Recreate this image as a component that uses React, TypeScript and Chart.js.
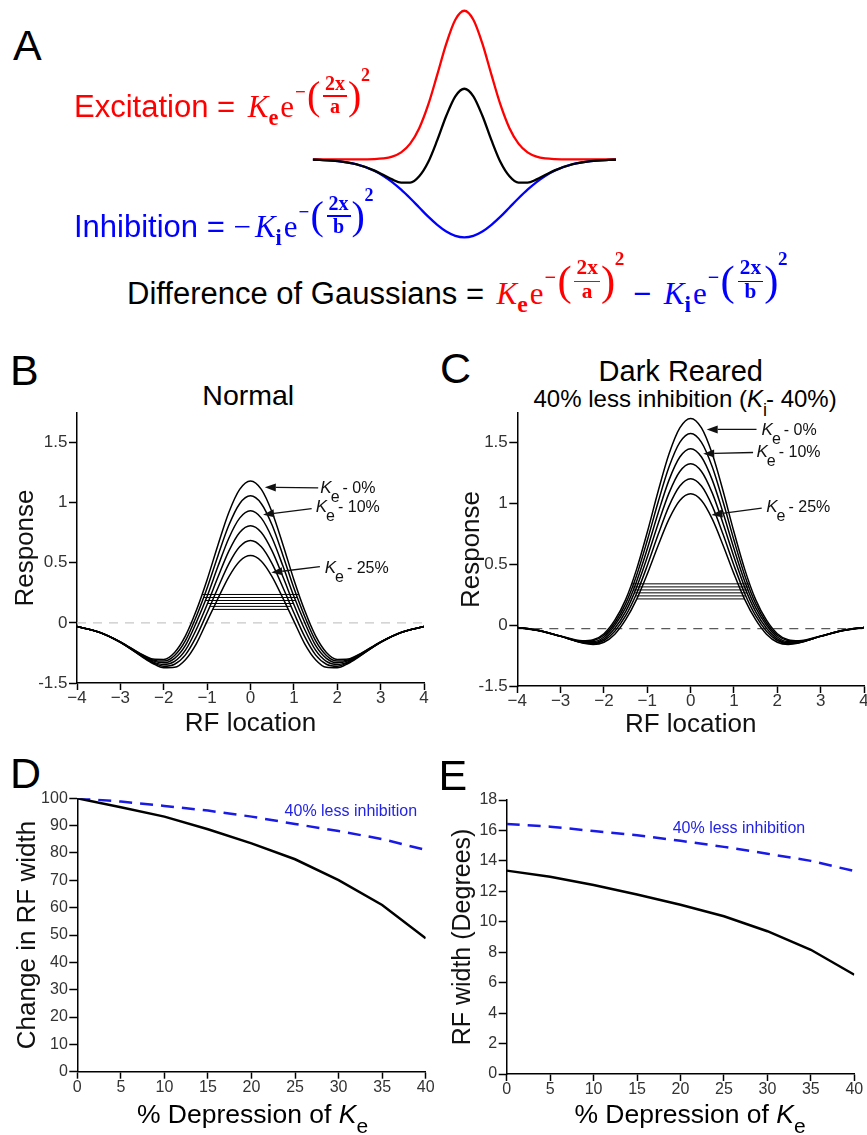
import React, { useEffect, useRef } from 'react';
import { Chart, registerables } from 'chart.js';
Chart.register(...registerables);

const SANS = "'Liberation Sans', Arial, Helvetica, sans-serif";
const SERIF = "'Liberation Serif', 'Times New Roman', serif";
Chart.defaults.font.family = SANS;
Chart.defaults.color = '#333';

// ---------- Panel A : schematic Gaussians ----------
const xA = [-4.2, -4, -3.5, -3, -2.5, -2.25, -2, -1.75, -1.5, -1.25, -1, -0.75, -0.5, -0.25, 0, 0.25, 0.5, 0.75, 1, 1.25, 1.5, 1.75, 2, 2.25, 2.5, 3, 3.5, 4, 4.2];
const excitationA = [0, 0, 0, 0.0001, 0.0019, 0.0063, 0.0183, 0.0468, 0.1054, 0.2096, 0.3679, 0.5698, 0.7788, 0.9394, 1, 0.9394, 0.7788, 0.5698, 0.3679, 0.2096, 0.1054, 0.0468, 0.0183, 0.0063, 0.0019, 0.0001, 0, 0, 0];
const inhibitionA = [-0.0023, -0.0038, -0.012, -0.0327, -0.0763, -0.11, -0.153, -0.204, -0.262, -0.324, -0.386, -0.441, -0.486, -0.515, -0.525, -0.515, -0.486, -0.441, -0.386, -0.324, -0.262, -0.204, -0.153, -0.11, -0.0763, -0.0327, -0.012, -0.0038, -0.0023];
const dogA = [-0.0023, -0.004, -0.012, -0.033, -0.074, -0.104, -0.135, -0.157, -0.157, -0.114, -0.018, 0.129, 0.293, 0.424, 0.475, 0.424, 0.293, 0.129, -0.018, -0.114, -0.157, -0.157, -0.135, -0.104, -0.074, -0.033, -0.012, -0.004, -0.0023];

// ---------- Panels B & C : RF profiles ----------
const rfLocation = [-4, -3.5, -3, -2.5, -2.25, -2, -1.75, -1.5, -1.25, -1, -0.75, -0.5, -0.25, 0, 0.25, 0.5, 0.75, 1, 1.25, 1.5, 1.75, 2, 2.25, 2.5, 3, 3.5, 4];
const normalKe0 = [-0.031, -0.076, -0.158, -0.263, -0.301, -0.304, -0.246, -0.108, 0.102, 0.359, 0.648, 0.918, 1.11, 1.18, 1.11, 0.918, 0.648, 0.359, 0.102, -0.108, -0.246, -0.304, -0.301, -0.263, -0.158, -0.076, -0.031];
const normalKe5 = [-0.031, -0.076, -0.158, -0.266, -0.308, -0.318, -0.271, -0.148, 0.053, 0.29, 0.559, 0.811, 0.991, 1.056, 0.991, 0.811, 0.559, 0.29, 0.053, -0.148, -0.271, -0.318, -0.308, -0.266, -0.158, -0.076, -0.031];
const normalKe10 = [-0.031, -0.076, -0.16, -0.271, -0.316, -0.332, -0.295, -0.187, 0.003, 0.221, 0.47, 0.704, 0.871, 0.932, 0.871, 0.704, 0.47, 0.221, 0.003, -0.187, -0.295, -0.332, -0.316, -0.271, -0.16, -0.076, -0.031];
const normalKe15 = [-0.031, -0.076, -0.161, -0.275, -0.324, -0.346, -0.32, -0.227, -0.055, 0.153, 0.381, 0.597, 0.752, 0.808, 0.752, 0.597, 0.381, 0.153, -0.055, -0.227, -0.32, -0.346, -0.324, -0.275, -0.161, -0.076, -0.031];
const normalKe20 = [-0.031, -0.077, -0.161, -0.278, -0.331, -0.36, -0.344, -0.266, -0.115, 0.084, 0.292, 0.49, 0.632, 0.684, 0.632, 0.49, 0.292, 0.084, -0.115, -0.266, -0.344, -0.36, -0.331, -0.278, -0.161, -0.077, -0.031];
const normalKe25 = [-0.031, -0.077, -0.162, -0.282, -0.338, -0.374, -0.37, -0.306, -0.174, 0.015, 0.203, 0.383, 0.513, 0.56, 0.513, 0.383, 0.203, 0.015, -0.174, -0.306, -0.37, -0.374, -0.338, -0.282, -0.162, -0.077, -0.031];
const darkKe0 = [-0.018, -0.044, -0.089, -0.128, -0.12, -0.07, 0.041, 0.21, 0.457, 0.766, 1.102, 1.407, 1.622, 1.7, 1.622, 1.407, 1.102, 0.766, 0.457, 0.21, 0.041, -0.07, -0.12, -0.128, -0.089, -0.044, -0.018];
const darkKe5 = [-0.018, -0.044, -0.09, -0.132, -0.127, -0.083, 0.02, 0.177, 0.407, 0.698, 1.013, 1.3, 1.503, 1.576, 1.503, 1.3, 1.013, 0.698, 0.407, 0.177, 0.02, -0.083, -0.127, -0.132, -0.09, -0.044, -0.018];
const darkKe10 = [-0.018, -0.044, -0.09, -0.136, -0.136, -0.097, 0, 0.144, 0.358, 0.629, 0.923, 1.193, 1.383, 1.452, 1.383, 1.193, 0.923, 0.629, 0.358, 0.144, 0, -0.097, -0.136, -0.136, -0.09, -0.044, -0.018];
const darkKe15 = [-0.018, -0.044, -0.091, -0.139, -0.143, -0.112, -0.025, 0.111, 0.309, 0.56, 0.834, 1.086, 1.264, 1.328, 1.264, 1.086, 0.834, 0.56, 0.309, 0.111, -0.025, -0.112, -0.143, -0.139, -0.091, -0.044, -0.018];
const darkKe20 = [-0.018, -0.046, -0.092, -0.143, -0.15, -0.126, -0.049, 0.078, 0.259, 0.491, 0.745, 0.979, 1.144, 1.204, 1.144, 0.979, 0.745, 0.491, 0.259, 0.078, -0.049, -0.126, -0.15, -0.143, -0.092, -0.046, -0.018];
const darkKe25 = [-0.019, -0.046, -0.092, -0.146, -0.158, -0.14, -0.074, 0.045, 0.21, 0.422, 0.656, 0.872, 1.025, 1.08, 1.025, 0.872, 0.656, 0.422, 0.21, 0.045, -0.074, -0.14, -0.158, -0.146, -0.092, -0.046, -0.019];

// width-measurement lines (20% of peak) : level and half width
const bandLevelB = [0.236, 0.211, 0.186, 0.161, 0.137, 0.112];
const bandHalfWidthB = [1.113, 1.077, 1.038, 0.988, 0.93, 0.865];
const bandLevelC = [0.34, 0.315, 0.29, 0.266, 0.241, 0.216];
const bandHalfWidthC = [1.368, 1.352, 1.33, 1.307, 1.277, 1.24];
const zeroLevelB = 0;
const zeroLevelC = -0.028;

const rfTickValues = [-4, -3, -2, -1, 0, 1, 2, 3, 4];
const rfTickLabels = ['\u22124', '\u22123', '\u22122', '\u22121', '0', '1', '2', '3', '4'];
const respTickValues = [-0.5, 0, 0.5, 1, 1.5];
const respTickLabels = ['-1.5', '0', '0.5', '1', '1.5'];

// curve annotations (data coordinates)
const labelTexts = ['0%', '10%', '25%'];
const arrowTailB = [[1.56, 1.122], [1.41, 0.95], [1.6, 0.467]];
const arrowHeadB = [[0.33, 1.127], [0.29, 0.9], [0.48, 0.418]];
const labelPosB = [[1.61, 1.08], [1.505, 0.925], [1.71, 0.418]];
const arrowTailC = [[1.52, 1.61], [1.44, 1.42], [1.64, 0.962]];
const arrowHeadC = [[0.37, 1.61], [0.29, 1.41], [0.48, 0.907]];
const labelPosC = [[1.636, 1.566], [1.52, 1.387], [1.744, 0.934]];

// ---------- Panels D & E ----------
const depression = [0, 5, 10, 15, 20, 25, 30, 35, 40];
const changeNormal = [100, 96.7, 93.3, 88.7, 83.5, 77.7, 70.1, 61.0, 48.8];
const changeLessInh = [100, 98.8, 97.2, 95.5, 93.3, 90.6, 88.0, 85.1, 81.1];
const widthNormal = [13.36, 12.96, 12.42, 11.79, 11.12, 10.36, 9.38, 8.16, 6.52];
const widthLessInh = [16.42, 16.25, 15.96, 15.69, 15.32, 14.92, 14.47, 14.0, 13.33];
const depTickValues = [0, 5, 10, 15, 20, 25, 30, 35, 40];
const changeTickValues = [0, 10, 20, 30, 40, 50, 60, 70, 80, 90, 100];
const widthTickValues = [0, 2, 4, 6, 8, 10, 12, 14, 16, 18];
const lessInhLabelD = [23.8, 95.0];
const lessInhLabelE = [19.1, 16.1];

// ---------- helpers ----------
const pts = (xs: number[], ys: number[]) => xs.map((x, i) => ({ x, y: ys[i] }));

function xAxis(min: number, max: number, values: number[], labels: string[], height: number, fontSize: number, pad: number, title?: any) {
  return {
    type: 'linear', min, max,
    afterBuildTicks: (s: any) => { s.ticks = values.map((v) => ({ value: v })); },
    afterFit: (s: any) => { s.height = height; s.paddingLeft = 0; s.paddingRight = 0; },
    ticks: { autoSkip: false, maxRotation: 0, padding: pad, color: '#333', font: { size: fontSize, lineHeight: 1 }, callback: (_v: any, i: number) => labels[i] },
    grid: { drawOnChartArea: false, drawTicks: true, tickLength: 7, tickColor: '#000', tickWidth: 1.5 },
    border: { display: true, color: '#000', width: 1.5 },
    title: title || { display: false },
  };
}
function yAxis(min: number, max: number, values: number[], labels: string[], width: number, fontSize: number, title: any) {
  return {
    type: 'linear', min, max,
    afterBuildTicks: (s: any) => { s.ticks = values.map((v) => ({ value: v })); },
    afterFit: (s: any) => { s.width = width; s.paddingTop = 0; s.paddingBottom = 0; },
    ticks: { autoSkip: false, padding: 1.5, color: '#333', font: { size: fontSize, lineHeight: 1 }, callback: (_v: any, i: number) => labels[i] },
    grid: { drawOnChartArea: false, drawTicks: true, tickLength: 8, tickColor: '#000', tickWidth: 1.5 },
    border: { display: true, color: '#000', width: 1.5 },
    title,
  };
}

function annotPlugin(tails: number[][], heads: number[][], labels: number[][]) {
  return {
    id: 'curveLabels',
    afterDatasetsDraw(chart: any) {
      const { ctx, scales } = chart;
      const X = (v: number) => scales.x.getPixelForValue(v);
      const Y = (v: number) => scales.y.getPixelForValue(v);
      ctx.save();
      ctx.strokeStyle = '#111';
      ctx.fillStyle = '#111';
      ctx.lineWidth = 1.3;
      tails.forEach((t, i) => {
        const x0 = X(t[0]), y0 = Y(t[1]);
        const x1 = X(heads[i][0]), y1 = Y(heads[i][1]);
        const a = Math.atan2(y1 - y0, x1 - x0);
        const hl = 11, hw = 4;
        const bx = x1 - hl * Math.cos(a), by = y1 - hl * Math.sin(a);
        ctx.beginPath(); ctx.moveTo(x0, y0); ctx.lineTo(bx, by); ctx.stroke();
        ctx.beginPath(); ctx.moveTo(x1, y1);
        ctx.lineTo(bx + hw * Math.sin(a), by - hw * Math.cos(a));
        ctx.lineTo(bx - hw * Math.sin(a), by + hw * Math.cos(a));
        ctx.closePath(); ctx.fill();
        const lx = X(labels[i][0]), ly = Y(labels[i][1]);
        ctx.textAlign = 'left'; ctx.textBaseline = 'alphabetic';
        ctx.font = `italic 17px ${SANS}`;
        ctx.fillText('K', lx, ly);
        const kw = ctx.measureText('K').width;
        ctx.font = `16px ${SANS}`;
        ctx.fillText('e', lx + kw - 1, ly + 9);
        const ew = ctx.measureText('e').width;
        ctx.fillText('- ' + labelTexts[i], lx + kw + ew + 2, ly);
      });
      ctx.restore();
    },
  };
}
function textPlugin(pos: number[]) {
  return {
    id: 'lessInh',
    afterDatasetsDraw(chart: any) {
      const { ctx, scales } = chart;
      ctx.save();
      ctx.font = `16px ${SANS}`;
      ctx.fillStyle = '#2323e6';
      ctx.textAlign = 'left';
      ctx.textBaseline = 'middle';
      ctx.fillText('40% less inhibition', scales.x.getPixelForValue(pos[0]), scales.y.getPixelForValue(pos[1]));
      ctx.restore();
    },
  };
}

function ChartCanvas({ left, top, width, height, config }: { left: number; top: number; width: number; height: number; config: any }) {
  const ref = useRef<HTMLCanvasElement>(null);
  useEffect(() => {
    const chart = new Chart(ref.current as HTMLCanvasElement, config);
    return () => chart.destroy();
  }, []);
  return <canvas ref={ref} width={width} height={height} style={{ position: 'absolute', left, top, width, height }} />;
}

function Txt({ left, baseline, size, color = '#000', width, align, children, italic }: any) {
  return (
    <div style={{ position: 'absolute', left, top: baseline - 0.8465 * size, width, textAlign: align, fontSize: size, lineHeight: `${size}px`, color, fontFamily: SANS, whiteSpace: 'nowrap', fontStyle: italic ? 'italic' : 'normal' }}>
      {children}
    </div>
  );
}

function Exponent({ den, s }: { den: string; s: number }) {
  const k = s / 31;
  const p = (v: number) => v * k;
  const base: React.CSSProperties = { position: 'absolute', lineHeight: 1, fontFamily: SERIF, whiteSpace: 'nowrap' };
  return (
    <span style={{ display: 'inline-block', position: 'relative', width: p(75), height: 0, verticalAlign: 'baseline' }}>
      <span style={{ ...base, left: p(0), bottom: p(15.6), fontSize: p(19), fontWeight: 'bold' }}>{'\u2212'}</span>
      <span style={{ ...base, left: p(12), bottom: p(1.5), fontSize: p(40) }}>(</span>
      <span style={{ ...base, left: p(26), width: p(28), textAlign: 'center', bottom: p(24), fontSize: p(20), fontWeight: 'bold' }}>2x</span>
      <span style={{ position: 'absolute', left: p(28), width: p(24), bottom: p(20.5), height: 1.4, background: 'currentColor' }} />
      <span style={{ ...base, left: p(26), width: p(28), textAlign: 'center', bottom: p(1.5), fontSize: p(20), fontWeight: 'bold' }}>{den}</span>
      <span style={{ ...base, left: p(53), bottom: p(1.5), fontSize: p(40) }}>)</span>
      <span style={{ ...base, left: p(66), bottom: p(33), fontSize: p(18), fontWeight: 'bold' }}>2</span>
    </span>
  );
}

function Term({ sub, den, s, neg }: { sub: string; den: string; s: number; neg?: boolean }) {
  return (
    <span style={{ fontFamily: SERIF }}>
      {neg ? <span>{'\u2212'}</span> : null}
      <span style={{ fontStyle: 'italic', marginLeft: 4 }}>K</span>
      <span style={{ fontSize: s * 0.72, fontWeight: 'bold', position: 'relative', top: s * 0.26, marginRight: 2 }}>{sub}</span>
      <span style={{ marginRight: 1 }}>e</span>
      <Exponent den={den} s={s} />
    </span>
  );
}

function Letter({ left, baseline, ch }: { left: number; baseline: number; ch: string }) {
  return <Txt left={left} baseline={baseline} size={43}>{ch}</Txt>;
}

export default function App() {
  const noPlug = { legend: { display: false }, tooltip: { enabled: false }, title: { display: false } };

  const cfgA = {
    type: 'line',
    data: {
      datasets: [
        { data: pts(xA, dogA), borderColor: '#000', borderWidth: 2.3, pointRadius: 0, cubicInterpolationMode: 'monotone' },
        { data: pts(xA, excitationA), borderColor: '#ff0000', borderWidth: 2.3, pointRadius: 0, cubicInterpolationMode: 'monotone' },
        { data: pts(xA, inhibitionA), borderColor: '#0000ff', borderWidth: 2.3, pointRadius: 0, cubicInterpolationMode: 'monotone' },
      ],
    },
    options: {
      animation: false, responsive: false, events: [],
      layout: { padding: { left: 12.7, right: 14, top: 3.3, bottom: 11.5 } },
      plugins: noPlug,
      scales: { x: { type: 'linear', display: false, min: -4.2, max: 4.2 }, y: { display: false, min: -0.6, max: 1.05 } },
    },
  };

  const rfConfig = (curves: number[][], levels: number[], halfW: number[], zero: number, zeroColor: string, yWidth: number, xHeight: number, padRight: number, yTitlePad: number, xTitlePad: number, plugin: any) => ({
    type: 'line',
    data: {
      datasets: [
        ...curves.map((c) => ({ data: pts(rfLocation, c), borderColor: '#000', borderWidth: 1.5, pointRadius: 0, cubicInterpolationMode: 'monotone' })),
        ...levels.map((h, i) => ({ data: [{ x: -halfW[i], y: h }, { x: halfW[i], y: h }], borderColor: '#000', borderWidth: 1, pointRadius: 0 })),
        { data: [{ x: -4, y: zero }, { x: 4, y: zero }], borderColor: zeroColor, borderWidth: 1.3, borderDash: [9, 7], pointRadius: 0 },
      ],
    },
    options: {
      animation: false, responsive: false, events: [],
      layout: { padding: { left: 0, right: padRight, top: 73, bottom: 0 } },
      plugins: noPlug,
      scales: {
        x: xAxis(-4, 4, rfTickValues, rfTickLabels, xHeight, 17, 0, { display: true, text: 'RF location', color: '#111', font: { size: 26, lineHeight: 1.2 }, padding: { top: 0, bottom: xTitlePad } }),
        y: yAxis(-0.5, 1.745, respTickValues, respTickLabels, yWidth, 17, { display: true, text: 'Response', color: '#111', font: { size: 26, lineHeight: 1.2 }, padding: { top: yTitlePad, bottom: 0 } }),
      },
    },
    plugins: [plugin],
  });

  const cfgB = rfConfig([normalKe0, normalKe5, normalKe10, normalKe15, normalKe20, normalKe25], bandLevelB, bandHalfWidthB, zeroLevelB, '#c8c8c8', 77, 57, 16, 10.4, 0.9, annotPlugin(arrowTailB, arrowHeadB, labelPosB));
  const cfgC = rfConfig([darkKe0, darkKe5, darkKe10, darkKe15, darkKe20, darkKe25], bandLevelC, bandHalfWidthC, zeroLevelC, '#5a5a5a', 77.3, 54, 3, 16.4, 0, annotPlugin(arrowTailC, arrowHeadC, labelPosC));

  const depConfig = (normal: number[], less: number[], yMax: number, yVals: number[], yWidth: number, xHeight: number, padRight: number, padTop: number, yTitle: string, yTitleSize: number, yTitlePad: number, labelPos: number[]) => ({
    type: 'line',
    data: {
      datasets: [
        { data: pts(depression, normal), borderColor: '#000', borderWidth: 2.5, pointRadius: 0, tension: 0 },
        { data: pts(depression, less), borderColor: '#1a1ae6', borderWidth: 2.5, borderDash: [13, 8], pointRadius: 0, tension: 0 },
      ],
    },
    options: {
      animation: false, responsive: false, events: [],
      layout: { padding: { left: 0, right: padRight, top: padTop, bottom: 0 } },
      plugins: noPlug,
      scales: {
        x: xAxis(0, 40, depTickValues, depTickValues.map(String), xHeight, 16, 1),
        y: yAxis(0, yMax, yVals, yVals.map(String), yWidth, 16, { display: true, text: yTitle, color: '#111', font: { size: yTitleSize, lineHeight: 1.2 }, padding: { top: yTitlePad, bottom: 0 } }),
      },
    },
    plugins: [textPlugin(labelPos)],
  });

  const cfgD = depConfig(changeNormal, changeLessInh, 100, changeTickValues, 77.3, 63.3, 14.3, 58.3, 'Change in RF width', 26, 12.4, lessInhLabelD);
  const cfgE = depConfig(widthNormal, widthLessInh, 18, widthTickValues, 76.7, 61, 12.7, 60, 'RF width (Degrees)', 25, 18, lessInhLabelE);

  return (
    <div style={{ position: 'absolute', left: 0, top: 0, width: 867, height: 1135, background: '#fff', overflow: 'hidden' }}>
      {/* Panel A */}
      <Letter left={13} baseline={60} ch="A" />
      <ChartCanvas left={300} top={0} width={330} height={260} config={cfgA} />
      <Txt left={74} baseline={117.3} size={31} color="#ff0000">Excitation = <Term sub="e" den="a" s={31} /></Txt>
      <Txt left={74} baseline={237.3} size={31} color="#0000ff">Inhibition = <Term neg sub="i" den="b" s={31} /></Txt>
      <Txt left={127} baseline={304} size={31}>
        Difference of Gaussians ={' '}
        <span style={{ color: '#ff0000' }}><Term sub="e" den="a" s={33} /></span>
        <span style={{ color: '#0000ff' }}>{' \u2212 '}<Term sub="i" den="b" s={33} /></span>
      </Txt>

      {/* Panel B */}
      <Letter left={10} baseline={385} ch="B" />
      <Txt left={148.3} width={200} align="center" baseline={405.2} size={28.5}>Normal</Txt>
      <ChartCanvas left={0} top={340} width={440} height={400} config={cfgB} />

      {/* Panel C */}
      <Letter left={440} baseline={383.3} ch="C" />
      <Txt left={580.8} width={200} align="center" baseline={382} size={29}>Dark Reared</Txt>
      <Txt left={533.5} width={300} align="center" baseline={407} size={24}>
        40% less inhibition (<i>K</i><span style={{ fontSize: 18, position: 'relative', top: 9, marginRight: -1 }}>i</span>- 40%)
      </Txt>
      <ChartCanvas left={440} top={340} width={427} height={400} config={cfgC} />

      {/* Panel D */}
      <Letter left={10} baseline={788.3} ch="D" />
      <ChartCanvas left={0} top={740} width={440} height={395} config={cfgD} />
      <Txt left={102.5} width={300} align="center" baseline={1123} size={26.5}>
        % Depression of <i>K</i><span style={{ fontSize: 21, position: 'relative', top: 10 }}>e</span>
      </Txt>

      {/* Panel E */}
      <Letter left={438.5} baseline={790} ch="E" />
      <ChartCanvas left={430} top={740} width={437} height={395} config={cfgE} />
      <Txt left={540} width={300} align="center" baseline={1123} size={26.5}>
        % Depression of <i>K</i><span style={{ fontSize: 21, position: 'relative', top: 10 }}>e</span>
      </Txt>
    </div>
  );
}
